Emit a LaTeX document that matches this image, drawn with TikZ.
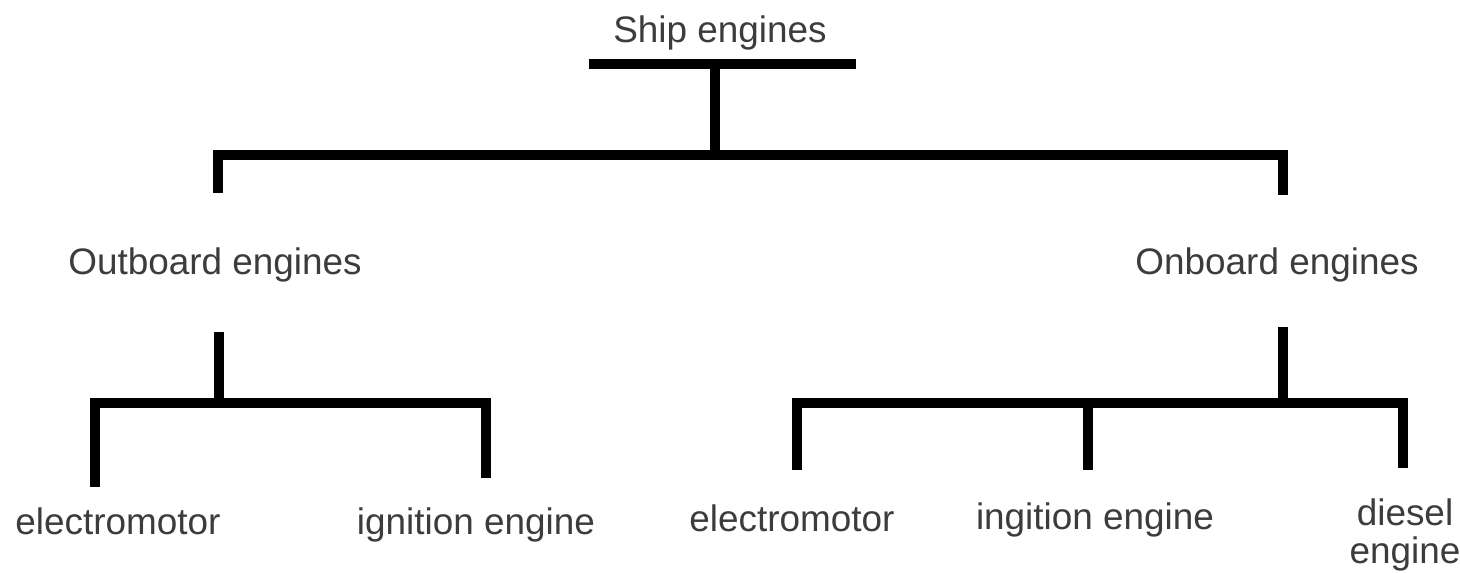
\documentclass[tikz,border=0pt]{standalone}
\usepackage{fontspec}
\setmainfont{Liberation Sans}
\definecolor{labelgray}{HTML}{3C3C3C}

\begin{document}
\begin{tikzpicture}
		\tikzstyle{every node}=[font=\fontsize{10.5pt}{10.8pt}\selectfont, text=labelgray, inner sep=0pt]
		\tikzstyle{bar}=[line width=2.6pt]
		\useasboundingbox (0,0) rectangle (14.6,-5.73);
		
		% labels
		\node[anchor=base] (ship) at (7.20,-0.43) {Ship engines};
		\node[anchor=base] (outboard) at (2.15,-2.75) {Outboard engines};
		\node[anchor=base] (onboard) at (12.77,-2.75) {Onboard engines};
		\node[anchor=base] (outelec) at (1.18,-5.35) {electromotor};
		\node[anchor=base] (outign) at (4.76,-5.35) {ignition engine};
		\node[anchor=base] (onelec) at (7.92,-5.32) {electromotor};
		\node[anchor=base] (onign) at (10.95,-5.30) {ingition engine};
		\node[anchor=north, align=center] (ondiesel) at (14.05,-4.98) {diesel\\engine};
		
		% junction points
		\coordinate (shipbar-l) at (5.89,-0.64);
		\coordinate (shipbar-r) at (8.56,-0.64);
		\coordinate (shipstem) at (7.15,-0.64);
		\coordinate (mainbar) at (7.15,-1.55);
		\coordinate (mainbar-l) at (2.18,-1.93);
		\coordinate (mainbar-r) at (12.83,-1.95);
		\coordinate (outstem) at (2.19,-3.32);
		\coordinate (outbar) at (2.19,-4.03);
		\coordinate (outbar-l) at (0.95,-4.87);
		\coordinate (outbar-r) at (4.86,-4.78);
		\coordinate (onstem) at (12.83,-3.27);
		\coordinate (onbar) at (12.83,-4.03);
		\coordinate (onbar-l) at (7.97,-4.70);
		\coordinate (onbar-m) at (10.88,-4.70);
		\coordinate (onbar-r) at (14.03,-4.68);
		
		% top
		\draw[bar] (shipbar-l) -- (shipbar-r);
		\draw[bar] (shipstem) -- (mainbar);
		\draw[bar] (mainbar-l) |- (mainbar) -| (mainbar-r);
		
		% outboard
		\draw[bar] (outstem) -- (outbar);
		\draw[bar] (outbar-l) |- (outbar) -| (outbar-r);
		
		% onboard
		\draw[bar] (onstem) -- (onbar);
		\draw[bar] (onbar-l) |- (onbar) -| (onbar-r);
		\draw[bar] (onbar-m) -- (onbar-m |- onbar);
		
	\end{tikzpicture}
\end{document}
